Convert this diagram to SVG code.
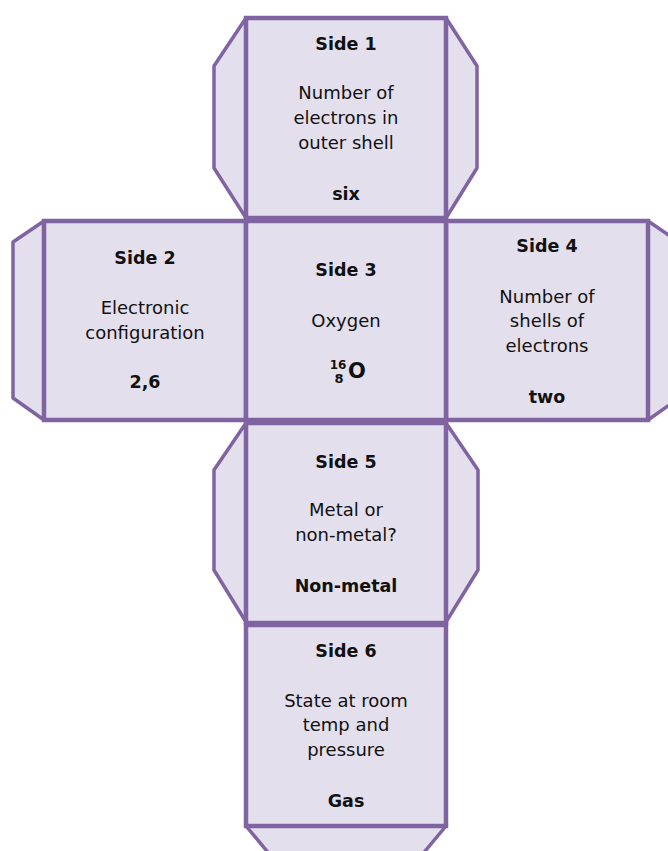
<svg xmlns="http://www.w3.org/2000/svg" width="668" height="851" viewBox="0 0 668 851">
<style>
.face{fill:#E4DFEC;stroke:#8064A2;stroke-width:4.5}
.tab{fill:#E4DFEC;stroke:#8064A2;stroke-width:3.5;stroke-linejoin:round}
text{font-family:"DejaVu Sans","Liberation Sans",sans-serif;fill:#111;text-anchor:middle}
.t{font-size:18px}
.b{font-size:17.5px;font-weight:bold}
</style>
<rect width="668" height="851" fill="#fff"/>
<g id="tabs">
<polygon class="tab" points="246,18 214,66 214,168 246,218"/>
<polygon class="tab" points="446,18 477,66 477,168 446,218"/>
<polygon class="tab" points="44,221 13,242 13,398 44,420"/>
<polygon class="tab" points="648,221 679,242 679,398 648,420"/>
<polygon class="tab" points="246,423 214,470 214,570 246,622"/>
<polygon class="tab" points="446,423 478,470 478,570 446,622"/>
<polygon class="tab" points="246,826 276,862 416,862 446,826"/>
</g>
<g id="side1">
<rect class="face" x="246" y="18" width="200" height="200"/>
<text class="b" x="346" y="50">Side 1</text>
<text class="t" x="346" y="99">Number of</text>
<text class="t" x="346" y="124">electrons in</text>
<text class="t" x="346" y="149">outer shell</text>
<text class="b" x="346" y="200">six</text>
</g>
<g id="side2">
<rect class="face" x="44" y="221" width="202" height="199"/>
<text class="b" x="145" y="264">Side 2</text>
<text class="t" x="145" y="314">Electronic</text>
<text class="t" x="145" y="339">configuration</text>
<text class="b" x="145" y="388">2,6</text>
</g>
<g id="side4">
<rect class="face" x="446" y="221" width="202" height="199"/>
<text class="b" x="547" y="252">Side 4</text>
<text class="t" x="547" y="303">Number of</text>
<text class="t" x="547" y="327">shells of</text>
<text class="t" x="547" y="352">electrons</text>
<text class="b" x="547" y="403">two</text>
</g>
<g id="side3">
<rect class="face" x="246" y="221" width="200" height="199"/>
<text class="b" x="346" y="276">Side 3</text>
<text class="t" x="346" y="327">Oxygen</text>
<text x="338" y="369" style="font-size:12px;font-weight:bold">16</text>
<text x="339" y="383" style="font-size:13px;font-weight:bold">8</text>
<text x="357" y="378" style="font-size:21px;font-weight:bold">O</text>
</g>
<g id="side5">
<rect class="face" x="246" y="423" width="200" height="200"/>
<text class="b" x="346" y="468">Side 5</text>
<text class="t" x="346" y="516">Metal or</text>
<text class="t" x="346" y="541">non-metal?</text>
<text class="b" x="346" y="592">Non-metal</text>
</g>
<g id="side6">
<rect class="face" x="246" y="625" width="200" height="201"/>
<text class="b" x="346" y="657">Side 6</text>
<text class="t" x="346" y="707">State at room</text>
<text class="t" x="346" y="731">temp and</text>
<text class="t" x="346" y="756">pressure</text>
<text class="b" x="346" y="807">Gas</text>
</g>
<g id="connectors"></g>
</svg>
